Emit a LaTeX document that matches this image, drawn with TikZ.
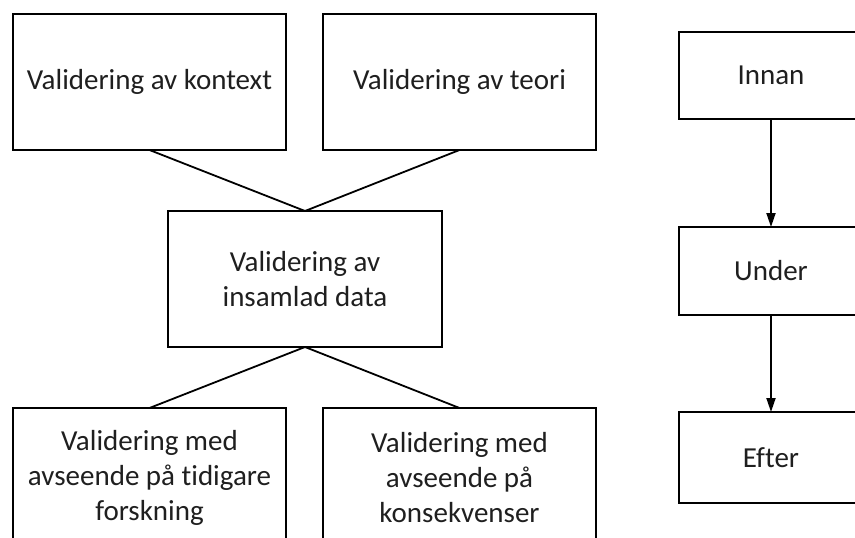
\documentclass[tikz,border=0pt]{standalone}
\usepackage{fontspec}
\setmainfont{Carlito}[Ligatures=NoCommon]
\usetikzlibrary{arrows.meta}
\begin{document}
\begin{tikzpicture}[x=1pt,y=-1pt,
  lbox/.style={draw=black,line width=2.8pt,fill=white,inner sep=0pt,outer sep=0pt,
    minimum width=273pt,minimum height=136pt,align=center,
    font=\fontsize{29}{35}\selectfont,text=black!88},
  rbox/.style={draw=black,line width=2pt,fill=white,inner sep=0pt,outer sep=0pt,
    minimum width=184pt,align=center,
    font=\fontsize{29}{35}\selectfont,text=black!88},
  conn/.style={draw=black,line width=1.8pt},
  arr/.style={draw=black,line width=1.9pt,-{Triangle[length=14pt,width=9pt]}}]
\useasboundingbox (0,0) rectangle (855,538);
\clip (0,0) rectangle (855,538);
\fill[white] (0,0) rectangle (855,538);
% left column
\node[lbox] (kon) at (149.5,82) {Validering av kontext};
\node[lbox] (teo) at (459.5,82) {Validering av teori};
\node[lbox,minimum width=274pt] (ins) at (305,279) {Validering av\\insamlad data};
\node[lbox,anchor=north,minimum height=140pt] (tid) at (149.5,408) {Validering med\\avseende på tidigare\\forskning};
\node[lbox,anchor=north,minimum height=140pt] (kse) at (459.5,408) {Validering med\\avseende på\\konsekvenser};
\draw[conn] (kon.south) -- (ins.north);
\draw[conn] (teo.south) -- (ins.north);
\draw[conn] (ins.south) -- (tid.north);
\draw[conn] (ins.south) -- (kse.north);
% right column
\node[rbox,minimum height=87pt] (inn) at (771,75.5) {Innan};
\node[rbox,minimum height=88pt] (und) at (771,271) {Under};
\node[rbox,minimum height=91pt] (eft) at (771,457.5) {Efter};
\draw[arr] (inn.south) -- (und.north);
\draw[arr] (und.south) -- (eft.north);
\end{tikzpicture}
\end{document}
